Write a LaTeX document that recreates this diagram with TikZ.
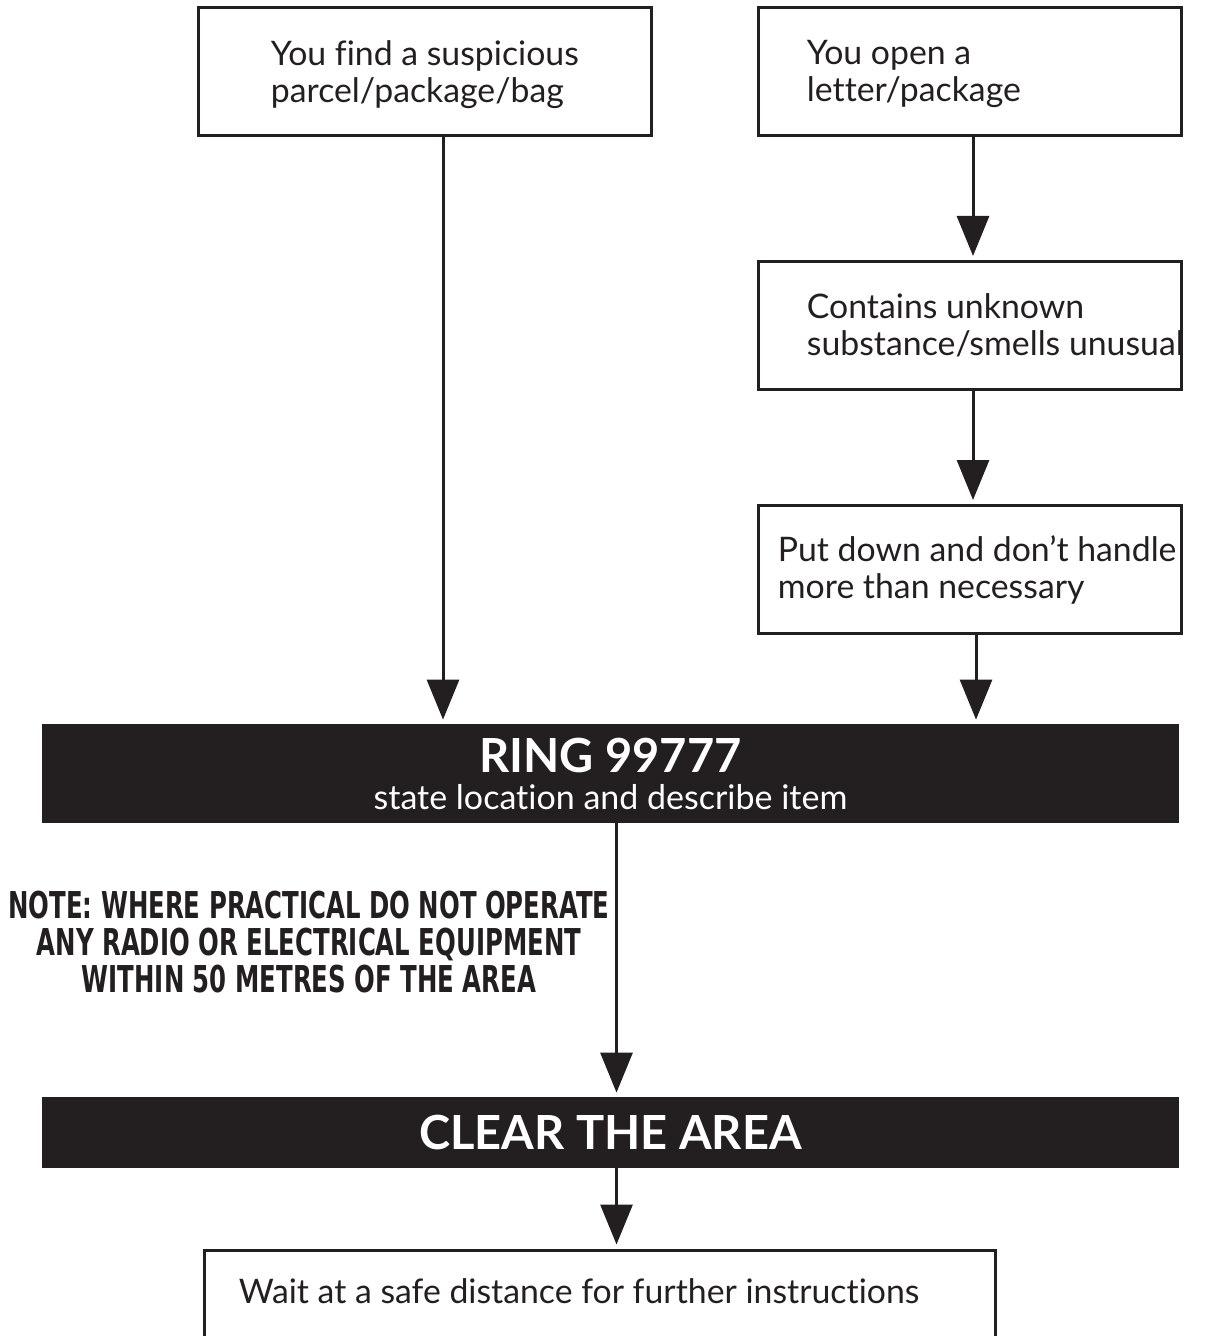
\documentclass[tikz,border=0pt]{standalone}
\usepackage{fontspec}
\setmainfont{Lato}[Ligatures=NoCommon]
\newfontfamily\notefont{DejaVu Sans}[FakeStretch=0.66]
\usetikzlibrary{positioning,arrows.meta}
\definecolor{noir}{RGB}{35,31,32}

\begin{document}
\begin{tikzpicture}[x=0.5pt, y=-0.5pt,
	boite/.style={draw=noir, line width=1.5pt, minimum width=#1, minimum height=64pt, inner sep=0pt},
	bande/.style={fill=noir, text=white, minimum width=568.5pt, inner sep=0pt, align=center,
		font=\fontsize{17}{18.5}\selectfont},
	texte/.style={align=left, inner sep=0pt, text=noir, font=\fontsize{16.9}{18.5}\selectfont},
	fleche/.style={line width=1.5pt, draw=noir, -{Triangle[width=16pt,length=20pt]}, shorten >=2pt}]

	\useasboundingbox (0,0) rectangle (1212,1336);

	%les cases du haut
	\node[boite=226.5pt] (trouve) at (424.5,72) {};
	\node[texte, right=37pt of trouve.west, yshift=-1.5pt] (trouve-t) {You find a suspicious\\parcel/package/bag};
	\node[boite=211.5pt] (ouvre) at (969.5,72) {};
	\node[texte, right=25pt of ouvre.west, yshift=-1pt] (ouvre-t) {You open a\\letter/package};
	\node[boite=211.5pt] (contient) at (969.5,325.5) {};
	\node[texte, right=25pt of contient.west] (contient-t) {Contains unknown\\substance/smells unusual};
	\node[boite=211.5pt] (pose) at (969.5,569.5) {};
	\node[texte, right=10.5pt of pose.west] (pose-t) {Put down and don’t handle\\more than necessary};

	%les bandes noires
	\node[bande, minimum height=49.5pt] (ring) at (610.5,773.5)
		{{\bfseries\fontsize{23.5}{21}\selectfont RING 99777}\\state location and describe item};
	\node[bande, minimum height=35.5pt] (clear) at (610.5,1132.5)
		{\bfseries\fontsize{23.5}{23.5}\selectfont CLEAR THE AREA};

	%la case du bas
	\node[boite=395.5pt, minimum height=50pt] (attendre) at (599.5,1300) {};
	\node[texte, right=18pt of attendre.west, yshift=4.5pt] (attendre-t)
		{Wait at a safe distance for further instructions};

	%la remarque
	\node[align=center, inner sep=0pt, text=noir, font=\notefont\bfseries\fontsize{18.5}{18.5}\selectfont]
		(note) at (309,942) {NOTE: WHERE PRACTICAL DO NOT OPERATE\\ANY RADIO OR ELECTRICAL EQUIPMENT\\WITHIN 50 METRES OF THE AREA};

	%les flèches
	\draw[fleche] ([xshift=9.25pt]trouve.south) -- ([xshift=9.25pt]trouve.south |- ring.north);
	\draw[fleche] ([xshift=1.75pt]ouvre.south) -- ([xshift=1.75pt]contient.north);
	\draw[fleche] ([xshift=1.75pt]contient.south) -- ([xshift=1.75pt]pose.north);
	\draw[fleche] ([xshift=3.25pt]pose.south) -- ([xshift=3.25pt]pose.south |- ring.north);
	\draw[fleche] ([xshift=3pt]ring.south) -- ([xshift=3pt]clear.north);
	\draw[fleche] ([xshift=3pt]clear.south) -- ([xshift=3pt]clear.south |- attendre.north);

\end{tikzpicture}
\end{document}
